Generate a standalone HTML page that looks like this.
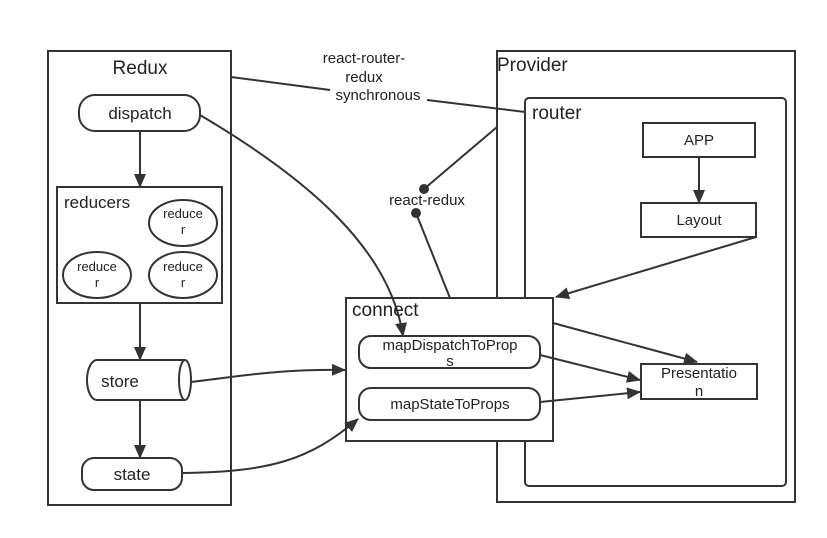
<!DOCTYPE html>
<html><head><style>body{margin:0;background:#fff}svg{display:block}</style></head><body>
<svg width="827" height="538" viewBox="0 0 827 538" xmlns="http://www.w3.org/2000/svg" font-family="Liberation Sans, sans-serif" fill="none" stroke="#333" stroke-width="2">
<defs><marker id="a" markerWidth="10" markerHeight="10" refX="9" refY="5" orient="auto" markerUnits="userSpaceOnUse"><path d="M0,0 L10,5 L0,10 z" fill="#333" stroke="none"/></marker>
<marker id="b" markerWidth="14" markerHeight="12" refX="13" refY="6" orient="auto" markerUnits="userSpaceOnUse"><path d="M0,0 L14,6 L0,12 z" fill="#333" stroke="none"/></marker></defs>
<rect x="48" y="51" width="183" height="454"/>
<rect x="497" y="51" width="298" height="451"/>
<rect x="525" y="98" width="261" height="388" rx="4"/>
<rect x="79" y="95" width="121" height="36" rx="16"/>
<line x1="140" y1="131" x2="140" y2="187" marker-end="url(#b)"/>
<rect x="57" y="187" width="165" height="116"/>
<ellipse cx="183" cy="223" rx="34" ry="23"/><ellipse cx="97" cy="275" rx="34" ry="23"/><ellipse cx="183" cy="275" rx="34" ry="23"/>
<line x1="140" y1="303" x2="140" y2="360" marker-end="url(#b)"/>
<path d="M97,360 H185 A6,20 0 0 1 185,400 H97 A10,20 0 0 1 97,360 Z"/><path d="M185,360 A6,20 0 0 0 185,400"/>
<line x1="140" y1="400" x2="140" y2="458" marker-end="url(#b)"/>
<rect x="82" y="458" width="100" height="32" rx="12"/>
<rect x="643" y="123" width="112" height="34"/>
<line x1="699" y1="157" x2="699" y2="203" marker-end="url(#b)"/>
<rect x="641" y="203" width="115" height="34"/>
<line x1="756" y1="237" x2="556" y2="297" marker-end="url(#b)"/>
<rect x="346" y="298" width="207" height="143" fill="#fff"/>
<rect x="359" y="336" width="181" height="32" rx="12"/>
<rect x="359" y="388" width="181" height="32" rx="12"/>
<rect x="641" y="364" width="116" height="35"/>
<line x1="553" y1="323" x2="697" y2="362" marker-end="url(#b)"/>
<line x1="540" y1="355" x2="640" y2="380" marker-end="url(#b)"/>
<line x1="540" y1="402" x2="640" y2="392" marker-end="url(#b)"/>
<path d="M191,382 C250,375 280,369 345,370" marker-end="url(#b)"/>
<path d="M182,473 C270,472 310,460 358,419" marker-end="url(#b)"/>
<path d="M200,115 C310,180 390,250 403,336" marker-end="url(#b)"/>
<line x1="497" y1="127" x2="424" y2="189"/><circle cx="424" cy="189" r="4" fill="#333"/>
<line x1="416" y1="213" x2="450" y2="298"/><circle cx="416" cy="213" r="4" fill="#333"/>
<line x1="231" y1="77" x2="330" y2="90"/><line x1="427" y1="100" x2="525" y2="112"/>
<g fill="#222" stroke="none" font-size="16">
<text x="140" y="74" text-anchor="middle" font-size="19">Redux</text>
<text x="140" y="119" text-anchor="middle" font-size="17">dispatch</text>
<text x="64" y="208" font-size="17">reducers</text>
<g font-size="13" text-anchor="middle"><text x="183" y="218">reduce</text><text x="183" y="234">r</text><text x="97" y="271">reduce</text><text x="97" y="287">r</text><text x="183" y="271">reduce</text><text x="183" y="287">r</text></g>
<text x="120" y="387" text-anchor="middle" font-size="17">store</text>
<text x="132" y="480" text-anchor="middle" font-size="17">state</text>
<text x="497" y="71" font-size="19">Provider</text>
<text x="532" y="119" font-size="19">router</text>
<text x="699" y="145" text-anchor="middle" font-size="15">APP</text>
<text x="699" y="225" text-anchor="middle" font-size="15">Layout</text>
<text x="352" y="316" font-size="19">connect</text>
<text x="450" y="350" text-anchor="middle" font-size="15">mapDispatchToProp</text>
<text x="450" y="366" text-anchor="middle" font-size="15">s</text>
<text x="450" y="409" text-anchor="middle" font-size="15">mapStateToProps</text>
<text x="699" y="378" text-anchor="middle" font-size="15">Presentatio</text>
<text x="699" y="396" text-anchor="middle" font-size="15">n</text>
<text x="427" y="205" text-anchor="middle" font-size="15">react-redux</text>
<text x="364" y="63" text-anchor="middle" font-size="15">react-router-</text>
<text x="364" y="82" text-anchor="middle" font-size="15">redux</text>
<text x="378" y="100" text-anchor="middle" font-size="15">synchronous</text>
</g>
</svg>
</body></html>
